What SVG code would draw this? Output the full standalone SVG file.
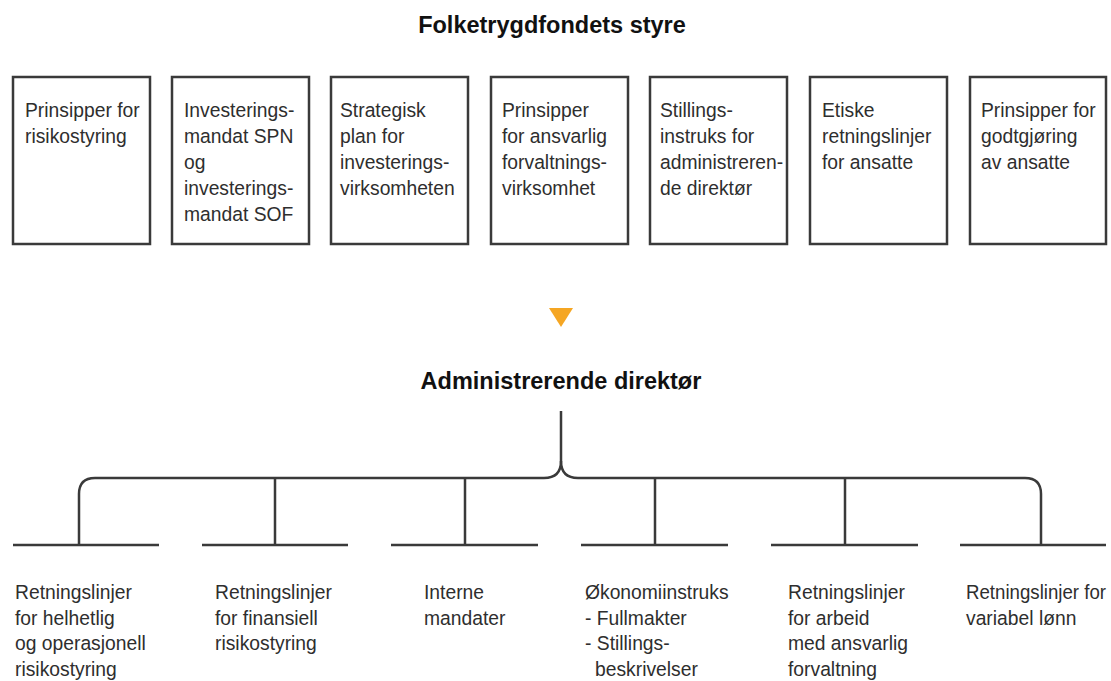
<svg xmlns="http://www.w3.org/2000/svg" width="1111" height="681" viewBox="0 0 1111 681">
<style>
.box{fill:#fff;stroke:#3a3a3a;stroke-width:2.5}
.t{font-family:"Liberation Sans",Arial,sans-serif;font-size:19.3px;fill:#2e2e2e}
.h{font-family:"Liberation Sans",Arial,sans-serif;font-size:23.5px;font-weight:bold;fill:#111;text-anchor:middle}
.ln{fill:none;stroke:#3a3a3a;stroke-width:2.5}
</style>
<rect width="1111" height="681" fill="#fff"/>
<text class="h" x="552" y="33">Folketrygdfondets styre</text>
<g id="b1"><rect class="box" x="13" y="77" width="137" height="167"/><text class="t" x="25" y="117"><tspan x="25">Prinsipper for</tspan><tspan x="25" dy="26">risikostyring</tspan></text></g>
<g id="b2"><rect class="box" x="172" y="77" width="137" height="167"/><text class="t" x="184" y="117"><tspan x="184">Investerings-</tspan><tspan x="184" dy="26">mandat SPN</tspan><tspan x="184" dy="26">og</tspan><tspan x="184" dy="26">investerings-</tspan><tspan x="184" dy="26">mandat SOF</tspan></text></g>
<g id="b3"><rect class="box" x="331" y="77" width="137" height="167"/><text class="t" x="340" y="117"><tspan x="340">Strategisk</tspan><tspan x="340" dy="26">plan for</tspan><tspan x="340" dy="26">investerings-</tspan><tspan x="340" dy="26">virksomheten</tspan></text></g>
<g id="b4"><rect class="box" x="491" y="77" width="137" height="167"/><text class="t" x="502" y="117"><tspan x="502">Prinsipper</tspan><tspan x="502" dy="26">for ansvarlig</tspan><tspan x="502" dy="26">forvaltnings-</tspan><tspan x="502" dy="26">virksomhet</tspan></text></g>
<g id="b5"><rect class="box" x="650" y="77" width="137" height="167"/><text class="t" x="660" y="117"><tspan x="660">Stillings-</tspan><tspan x="660" dy="26">instruks for</tspan><tspan x="660" dy="26">administreren-</tspan><tspan x="660" dy="26">de direktør</tspan></text></g>
<g id="b6"><rect class="box" x="810" y="77" width="137" height="167"/><text class="t" x="822" y="117"><tspan x="822">Etiske</tspan><tspan x="822" dy="26">retningslinjer</tspan><tspan x="822" dy="26">for ansatte</tspan></text></g>
<g id="b7"><rect class="box" x="970" y="77" width="136" height="167"/><text class="t" x="981" y="117"><tspan x="981">Prinsipper for</tspan><tspan x="981" dy="26">godtgjøring</tspan><tspan x="981" dy="26">av ansatte</tspan></text></g>
<polygon id="arrow" points="549,308 573,308 561,327" fill="#F5A623"/>
<text id="adm" class="h" x="561" y="389">Administrerende direktør</text>
<g id="connectors">
<path class="ln" d="M561 411 V461 Q561 478 544 478 H95 Q79 478 79 494 V545"/>
<path class="ln" d="M561 461 Q561 478 578 478 H1025 Q1041 478 1041 494 V545"/>
<path class="ln" d="M275 478 V545 M465 478 V545 M655 478 V545 M845 478 V545"/>
</g>
<g id="n1"><path class="ln" d="M13 545 H159"/><text class="t" x="15" y="599"><tspan x="15">Retningslinjer</tspan><tspan x="15" dy="25.5">for helhetlig</tspan><tspan x="15" dy="25.5">og operasjonell</tspan><tspan x="15" dy="25.5">risikostyring</tspan></text></g>
<g id="n2"><path class="ln" d="M202 545 H348"/><text class="t" x="215" y="599"><tspan x="215">Retningslinjer</tspan><tspan x="215" dy="25.5">for finansiell</tspan><tspan x="215" dy="25.5">risikostyring</tspan></text></g>
<g id="n3"><path class="ln" d="M391 545 H538"/><text class="t" x="424" y="599"><tspan x="424">Interne</tspan><tspan x="424" dy="25.5">mandater</tspan></text></g>
<g id="n4"><path class="ln" d="M581 545 H728"/><text class="t" x="585" y="599"><tspan x="585">Økonomiinstruks</tspan><tspan x="585" dy="25.5">- Fullmakter</tspan><tspan x="585" dy="25.5">- Stillings-</tspan><tspan x="595" dy="25.5">beskrivelser</tspan></text></g>
<g id="n5"><path class="ln" d="M771 545 H918"/><text class="t" x="788" y="599"><tspan x="788">Retningslinjer</tspan><tspan x="788" dy="25.5">for arbeid</tspan><tspan x="788" dy="25.5">med ansvarlig</tspan><tspan x="788" dy="25.5">forvaltning</tspan></text></g>
<g id="n6"><path class="ln" d="M960 545 H1106"/><text class="t" x="966" y="599"><tspan x="966" textLength="140" lengthAdjust="spacingAndGlyphs">Retningslinjer for</tspan><tspan x="966" dy="25.5">variabel lønn</tspan></text></g>
</svg>
